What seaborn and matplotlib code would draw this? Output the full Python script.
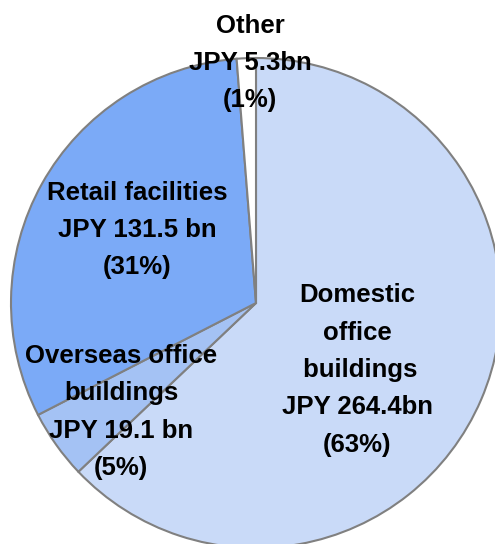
import matplotlib
matplotlib.use("Agg")
import matplotlib.pyplot as plt
import seaborn as sns

# segments, clockwise from 12 o'clock
segments = ["Domestic office buildings", "Overseas office buildings",
            "Retail facilities", "Other"]
values_bn = [264.4, 19.1, 131.5, 5.3]
pct_labels = ["63%", "5%", "31%", "1%"]
label_texts = [
    "Domestic\noffice\n buildings\nJPY 264.4bn\n(63%)",
    "Overseas office\nbuildings\nJPY 19.1 bn\n(5%)",
    "Retail facilities\nJPY 131.5 bn\n(31%)",
    "Other\nJPY 5.3bn\n(1%)",
]
colors = ["#c9daf8", "#a4c2f4", "#7baaf7", "#ffffff"]

sns.set_theme(style="white")
plt.rcParams["font.family"] = ["Liberation Sans", "DejaVu Sans"]

fig = plt.figure(figsize=(4.95, 5.44), dpi=100)
# pie centre at (256, 303) px, radius 245 px
ax = fig.add_axes([11 / 495, (544 - 548) / 544, 490 / 495, 490 / 544])

ax.pie(values_bn, colors=colors, startangle=90, counterclock=False,
       radius=1, center=(0, 0), frame=True,
       wedgeprops=dict(edgecolor="#808080", linewidth=1.5))
ax.set_xlim(-1, 1)
ax.set_ylim(-1, 1)
ax.set_aspect("equal")
ax.axis("off")

# label centres in pixel space (x from left, y from top)
label_pos = [(357, 370), (121, 412), (137, 230), (250, 63)]
for txt, (px, py) in zip(label_texts, label_pos):
    fig.text(px / 495, 1 - py / 544, txt, ha="center", va="center",
             fontsize=18.5, fontweight="bold", color="black",
             linespacing=1.7, multialignment="center")

fig.savefig("out.png", dpi=100)
